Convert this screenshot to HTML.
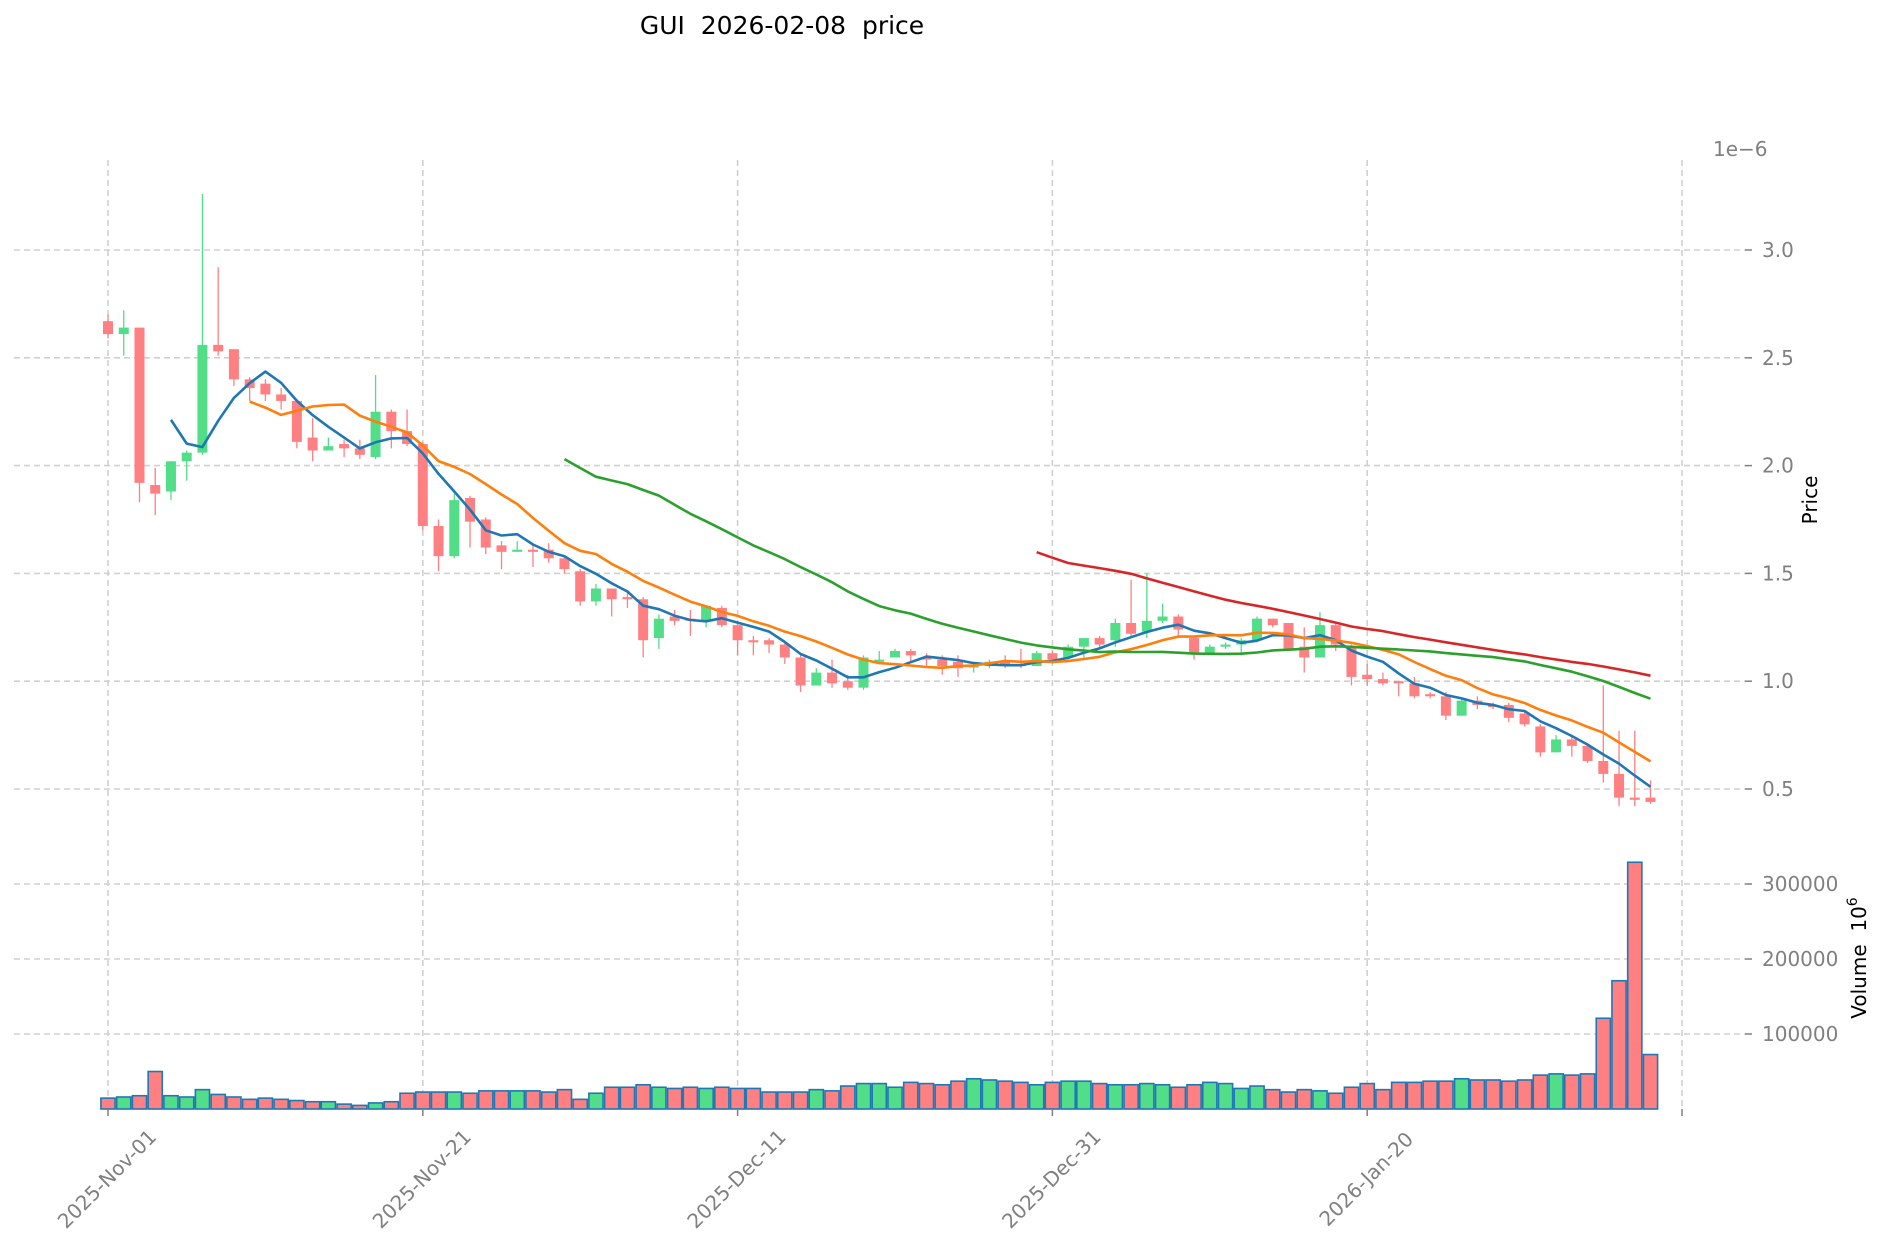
<!DOCTYPE html>
<html><head><meta charset="utf-8"><style>
html,body{margin:0;padding:0;background:#fff;}
svg{display:block;font-family:"DejaVu Sans","Liberation Sans",sans-serif;}
</style></head><body>
<svg id="chart" width="1885" height="1246" viewBox="0 0 1885 1246" xmlns="http://www.w3.org/2000/svg">
<text x="782" y="34" font-size="25" text-anchor="middle" fill="#000" style="white-space:pre" xml:space="preserve">GUI  2026-02-08  price</text>
<g id="grid"></g>
<g id="volbars"></g>
<g id="candles"></g>
<g id="mas"></g>
<g id="axes"></g>
<text x="1713" y="156" font-size="20" fill="#808080">1e−6</text>
<text transform="translate(1817,500) rotate(-90)" font-size="20" text-anchor="middle" fill="#000">Price</text>
<text transform="translate(1866,958) rotate(-90)" font-size="20" text-anchor="middle" fill="#000" style="white-space:pre" xml:space="preserve">Volume  10<tspan dy="-9" font-size="14">6</tspan></text>
</svg>
<script>
const opens  = [2.67,2.61,2.64,1.91,1.88,2.02,2.06,2.56,2.54,2.40,2.38,2.33,2.30,2.13,2.07,2.10,2.08,2.04,2.25,2.16,2.10,1.72,1.58,1.85,1.75,1.63,1.60,1.61,1.61,1.57,1.51,1.37,1.43,1.39,1.38,1.20,1.30,1.29,1.28,1.34,1.26,1.19,1.19,1.17,1.11,0.98,1.04,1.00,0.97,1.09,1.11,1.14,1.11,1.10,1.09,1.07,1.07,1.09,1.08,1.07,1.13,1.11,1.16,1.20,1.19,1.27,1.23,1.28,1.30,1.20,1.13,1.16,1.17,1.19,1.29,1.27,1.16,1.11,1.26,1.16,1.03,1.01,1.00,0.99,0.94,0.93,0.84,0.91,0.89,0.89,0.85,0.79,0.67,0.73,0.70,0.63,0.57,0.46,0.46];
const highs  = [2.70,2.72,2.64,1.99,2.02,2.07,3.26,2.92,2.54,2.41,2.40,2.36,2.31,2.22,2.13,2.12,2.12,2.42,2.26,2.26,2.11,1.75,1.87,1.86,1.76,1.65,1.65,1.63,1.64,1.58,1.52,1.45,1.43,1.42,1.39,1.31,1.33,1.33,1.35,1.35,1.27,1.21,1.20,1.18,1.12,1.06,1.10,1.03,1.12,1.14,1.15,1.15,1.13,1.12,1.12,1.09,1.10,1.12,1.15,1.14,1.14,1.17,1.20,1.21,1.29,1.47,1.50,1.36,1.31,1.21,1.17,1.18,1.20,1.30,1.29,1.27,1.25,1.32,1.27,1.17,1.08,1.04,1.00,1.02,0.95,0.95,0.92,0.93,0.90,0.90,0.86,0.80,0.75,0.74,0.71,0.98,0.77,0.77,0.54];
const lows   = [2.59,2.51,1.83,1.77,1.84,1.93,2.05,2.51,2.37,2.30,2.30,2.26,2.08,2.02,2.07,2.04,2.03,2.03,2.08,2.09,1.70,1.51,1.57,1.62,1.59,1.52,1.60,1.53,1.55,1.50,1.35,1.35,1.30,1.34,1.11,1.15,1.26,1.21,1.25,1.25,1.12,1.12,1.13,1.08,0.95,0.98,0.97,0.96,0.96,1.08,1.11,1.09,1.07,1.03,1.02,1.04,1.06,1.06,1.06,1.07,1.08,1.10,1.10,1.15,1.16,1.20,1.20,1.27,1.20,1.10,1.13,1.15,1.12,1.18,1.25,1.14,1.04,1.11,1.14,0.98,0.98,0.98,0.93,0.92,0.92,0.82,0.84,0.87,0.87,0.81,0.79,0.65,0.67,0.65,0.62,0.53,0.42,0.42,0.43];
const closes = [2.61,2.64,1.92,1.87,2.02,2.06,2.56,2.53,2.40,2.36,2.33,2.30,2.11,2.07,2.09,2.08,2.05,2.25,2.16,2.10,1.72,1.58,1.84,1.74,1.62,1.60,1.61,1.60,1.57,1.52,1.37,1.43,1.38,1.38,1.19,1.29,1.28,1.28,1.35,1.26,1.19,1.18,1.17,1.11,0.98,1.04,0.99,0.97,1.11,1.10,1.14,1.12,1.10,1.07,1.06,1.07,1.09,1.08,1.07,1.13,1.10,1.16,1.20,1.17,1.27,1.22,1.28,1.30,1.24,1.13,1.16,1.17,1.19,1.29,1.26,1.15,1.11,1.26,1.17,1.02,1.01,0.99,0.99,0.93,0.93,0.84,0.91,0.89,0.88,0.83,0.80,0.67,0.73,0.70,0.63,0.57,0.46,0.45,0.44];
const volumes = [14.5,16,17.7,50,17.7,16,25.8,19.4,16,12.9,14.5,12.9,11.3,9.7,9.7,6.5,4.8,8.1,9.7,21,22.6,22.6,22.6,21,24.2,24.2,24.2,24.2,22.6,25.8,12.9,21,29,29,32.3,29,27.4,29,27.4,29,27.4,27.4,22.6,22.6,22.6,25.8,24.2,30.6,33.9,33.9,29,35.5,33.9,32.3,37.1,40.3,38.7,37.1,35.5,32.3,35.5,37.1,37.1,33.9,32.3,32.3,33.9,32.3,29,32.3,35.5,33.9,27.4,30.6,25.8,22.6,25.8,24.2,21,29,33.9,25.8,35.5,35.5,37.1,37.1,40.3,38.7,38.7,37.1,38.7,45.2,46.8,45.2,46.8,121,171,329,72.6];
const maPeriods = [5,10,30,60];
const maColors = ['#1f77b4','#ff7f0e','#2ca02c','#d62728'];
const priceTicks = [0.5,1.0,1.5,2.0,2.5,3.0];
const priceTickLabels = ['0.5','1.0','1.5','2.0','2.5','3.0'];
const volTicks = [100000,200000,300000];
const volTickLabels = ['100000','200000','300000'];
const dateTickIdx = [0,20,40,60,80,100];
const dateTickLabels = ['2025-Nov-01','2025-Nov-21','2025-Dec-11','2025-Dec-31','2026-Jan-20',''];

const NS='http://www.w3.org/2000/svg';
const X0=108, DX=15.74, LEFT=14, RIGHT=1745, TOP=160, BOTTOM=1109;
const xs=i=>X0+i*DX;
const py=p=>250+(3.0-p)*215.6;
const vy=v=>1109-v/100000*75;
const UP='#52de89', DOWN='#ff8082';
function mk(tag,attrs,parent){const e=document.createElementNS(NS,tag);for(const k in attrs)e.setAttribute(k,attrs[k]);parent.appendChild(e);return e;}
const grid=document.getElementById('grid'), axes=document.getElementById('axes');
priceTicks.forEach((t,k)=>{
  const l=mk('line',{x1:LEFT,x2:RIGHT,y1:py(t),y2:py(t),stroke:'#d0d0d0','stroke-width':1.6,'stroke-dasharray':'6,4'},grid);
  
  
  mk('line',{x1:RIGHT,x2:RIGHT+7,y1:py(t),y2:py(t),stroke:'#808080','stroke-width':1.5},axes);
  const tx=mk('text',{x:RIGHT+17,y:py(t)+7,'font-size':20,fill:'#808080'},axes);
  tx.textContent=priceTickLabels[k];
  
  
});
volTicks.forEach((t,k)=>{
  const l=mk('line',{x1:LEFT,x2:RIGHT,y1:vy(t),y2:vy(t),stroke:'#d0d0d0','stroke-width':1.6,'stroke-dasharray':'6,4'},grid);
  
  
  mk('line',{x1:RIGHT,x2:RIGHT+7,y1:vy(t),y2:vy(t),stroke:'#808080','stroke-width':1.5},axes);
  const tx=mk('text',{x:RIGHT+17,y:vy(t)+7,'font-size':20,fill:'#808080'},axes);
  tx.textContent=volTickLabels[k];
  
  
});
dateTickIdx.forEach((d,k)=>{
  const x=xs(d);
  const l=mk('line',{x1:x,x2:x,y1:TOP,y2:BOTTOM,stroke:'#d0d0d0','stroke-width':1.6,'stroke-dasharray':'6,4'},grid);
  
  
  mk('line',{x1:x,x2:x,y1:BOTTOM,y2:BOTTOM+7,stroke:'#808080','stroke-width':1.5},axes);
  if(dateTickLabels[k]){
    const tx=mk('text',{transform:`translate(${x},1180) rotate(-45)`,'font-size':20,fill:'#808080','text-anchor':'middle','dominant-baseline':'middle'},axes);
    tx.textContent=dateTickLabels[k];
    
    
  }
});
const vb=document.getElementById('volbars');
volumes.forEach((v,i)=>{
  const up=closes[i]>=opens[i];
  const y=vy(v*1000);
  const r=mk('rect',{x:xs(i)-DX/2+0.8,y:y,width:DX-1.6,height:1109-y,fill:up?UP:DOWN,stroke:'#1f77b4','stroke-width':1.6},vb);
  
  
});
const cg=document.getElementById('candles');
opens.forEach((o,i)=>{
  const c=closes[i], up=c>=o, col=up?UP:DOWN, x=xs(i);
  const w=mk('line',{x1:x,x2:x,y1:py(highs[i]),y2:py(lows[i]),stroke:col,'stroke-width':1.3},cg);
  
  
  const top=py(Math.max(o,c)), bot=py(Math.min(o,c));
  const b=mk('rect',{x:x-5,y:top,width:10,height:Math.max(bot-top,1.5),fill:col},cg);
  
  
});
const mg=document.getElementById('mas');
maPeriods.forEach((n,k)=>{
  const pts=[];
  for(let i=n-1;i<closes.length;i++){let s=0;for(let j=i-n+1;j<=i;j++)s+=closes[j];pts.push(xs(i).toFixed(1)+','+py(s/n).toFixed(1));}
  const pl=mk('polyline',{points:pts.join(' '),fill:'none',stroke:maColors[k],'stroke-width':2.6,'stroke-linejoin':'round'},mg);
  
  
});
</script>
</body></html>
